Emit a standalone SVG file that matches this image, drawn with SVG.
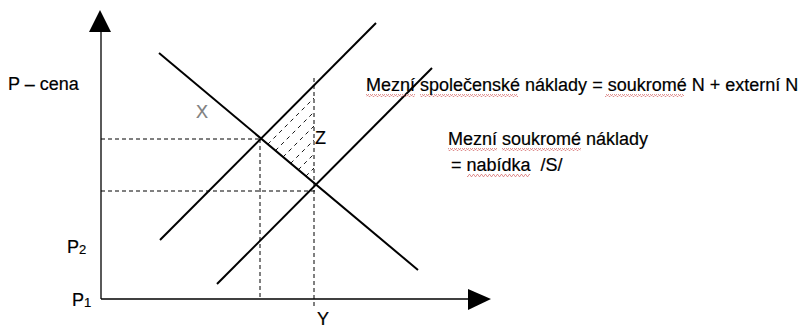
<svg xmlns="http://www.w3.org/2000/svg" width="800" height="329" viewBox="0 0 800 329">
  <defs>
    <style>
      .axis { stroke: #000; stroke-width: 1.3; fill: none; }
      .curve { stroke: #000; stroke-width: 2; fill: none; stroke-linecap: butt; }
      .guide { stroke: #000; stroke-width: 1; fill: none; stroke-dasharray: 4 3; }
      .hatch { stroke: #000; stroke-width: 0.9; fill: none; stroke-dasharray: 4 4; }
      .lbl { font-family: "Liberation Sans", Arial, sans-serif; font-size: 18px; fill: #000; stroke: #000; stroke-width: 0.2; }
      .sub { font-size: 13px; }
      .grey { fill: #808080; stroke: #808080; }
      .head { fill: #000; stroke: none; }
    </style>
    <pattern id="wave" x="0" y="0" width="4" height="3" patternUnits="userSpaceOnUse">
      <polyline points="0,2.5 1,0.5 2,0.5 3,2.5 4,2.5" fill="none" stroke="#d87878" stroke-width="0.8"/>
    </pattern>
  </defs>
  <rect width="800" height="329" fill="#fff"/>

  <g id="axes">
    <line class="axis" x1="101" y1="30" x2="101" y2="299"/>
    <line class="axis" x1="101" y1="299" x2="470" y2="299"/>
    <polygon class="head" points="100,10 111,32 89,32"/>
    <polygon class="head" points="491,299 468,289 468,310"/>
  </g>

  <g id="connectors">
    <g id="guides">
      <line class="guide" x1="101" y1="139" x2="260" y2="139"/>
      <line class="guide" x1="101" y1="191" x2="315" y2="191"/>
      <line class="guide" x1="260" y1="139" x2="260" y2="298"/>
      <line class="guide" x1="314" y1="78" x2="314" y2="306"/>
    </g>
    <g id="hatching">
      <line class="hatch" x1="267.8" y1="144.2" x2="314" y2="98"/>
      <line class="hatch" x1="275.4" y1="150.6" x2="314" y2="112"/>
      <line class="hatch" x1="283" y1="157" x2="314" y2="126"/>
      <line class="hatch" x1="290.6" y1="163.4" x2="314" y2="140"/>
      <line class="hatch" x1="298.3" y1="169.7" x2="314" y2="154"/>
      <line class="hatch" x1="305.9" y1="176.1" x2="314" y2="168"/>
    </g>
    <line id="demand" class="curve" x1="159" y1="53" x2="418" y2="270"/>
    <line id="social-cost" class="curve" x1="160" y1="240" x2="376" y2="23"/>
    <line id="supply" class="curve" x1="217" y1="284" x2="432" y2="68"/>
  </g>

  <g id="label-p-cena"><text class="lbl" x="8" y="90">P – cena</text></g>
  <g id="label-x"><text class="lbl grey" x="196" y="118">X</text></g>
  <g id="label-z"><text class="lbl" x="315" y="144">Z</text></g>
  <g id="label-p2"><text class="lbl" x="67" y="253">P<tspan class="sub" dy="1">2</tspan></text></g>
  <g id="label-p1"><text class="lbl" x="72" y="306">P<tspan class="sub" dy="1">1</tspan></text></g>
  <g id="label-y"><text class="lbl" x="317" y="325">Y</text></g>

  <g id="label-social">
    <rect x="366" y="94" width="49" height="3" fill="url(#wave)"/>
    <rect x="420" y="94" width="98" height="3" fill="url(#wave)"/>
    <rect x="605" y="94" width="79" height="3" fill="url(#wave)"/>
    <text class="lbl" x="366" y="91">Mezní společenské náklady = soukromé N + externí N</text>
  </g>
  <g id="label-private">
    <rect x="448" y="148" width="49" height="3" fill="url(#wave)"/>
    <rect x="502" y="148" width="79" height="3" fill="url(#wave)"/>
    <text class="lbl" x="448" y="145">Mezní soukromé náklady</text>
  </g>
  <g id="label-supply">
    <rect x="467" y="174" width="63" height="3" fill="url(#wave)"/>
    <text class="lbl" x="446" y="171" xml:space="preserve"> = nabídka  /S/</text>
  </g>
</svg>
